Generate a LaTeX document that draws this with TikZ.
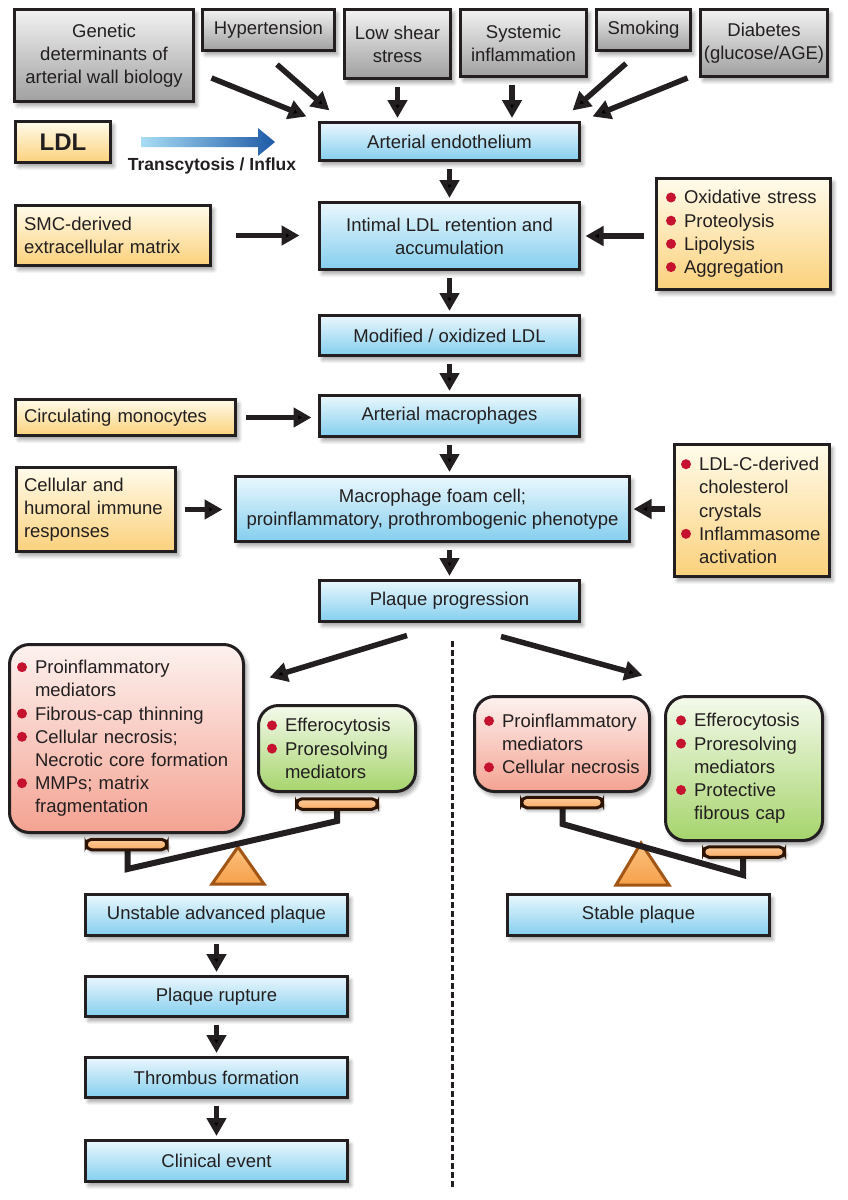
\documentclass[tikz,border=0pt]{standalone}
\usepackage{fontspec}
\setmainfont{Liberation Sans}
\usetikzlibrary{arrows.meta,shadows,shadows.blur,calc}
\definecolor{grayT}{HTML}{F2F2F2}
\definecolor{grayB}{HTML}{A0A0A0}
\definecolor{blueT}{HTML}{EAF7FD}
\definecolor{blueB}{HTML}{84CEEE}
\definecolor{yelT}{HTML}{FFFBEA}
\definecolor{yelB}{HTML}{FBD17C}
\definecolor{redT}{HTML}{FDF2EF}
\definecolor{redB}{HTML}{F4A292}
\definecolor{grnT}{HTML}{F4FAEC}
\definecolor{grnB}{HTML}{A6D46C}
\definecolor{bred}{HTML}{C4122F}
\definecolor{panT}{HTML}{FDCB98}
\definecolor{panF}{HTML}{F8AC66}
\definecolor{panD}{HTML}{2E1405}
\definecolor{triT}{HTML}{FBC27F}
\definecolor{triF}{HTML}{F6A04A}
\definecolor{triD}{HTML}{A25615}
\definecolor{arrL}{HTML}{A8DDF5}
\definecolor{arrR}{HTML}{1E5AA6}
\definecolor{ink}{HTML}{231F20}
\newcommand{\fsz}{\fontsize{18.5}{23.2}\selectfont}
\newcommand{\bul}{\tikz[baseline=-6.5pt]\fill[bred](0pt,0pt) circle[radius=5pt];\hspace{8pt}}
\newcommand{\ind}{\hspace*{18pt}}
\begin{document}
\begin{tikzpicture}[x=1pt,y=-1pt,
 box/.style={draw=ink, line width=3pt, font=\fsz, text=ink, align=center, inner sep=2pt,
   blur shadow={shadow xshift=3pt,shadow yshift=-4pt,shadow blur radius=4pt,shadow blur steps=8,shadow opacity=40}},
 graybox/.style={box, top color=grayT, bottom color=grayB},
 bluebox/.style={box, top color=blueT, bottom color=blueB},
 yelbox/.style={box, top color=yelT, bottom color=yelB},
 redbox/.style={box, top color=redT, bottom color=redB, rounded corners=20pt},
 grnbox/.style={box, top color=grnT, bottom color=grnB, rounded corners=20pt},
 panbar/.style={draw=panD, line width=3pt, top color=panT, bottom color=panF, rounded corners=5.5pt,
   minimum width=81pt, minimum height=10.5pt, inner sep=0pt,
   blur shadow={shadow xshift=2pt,shadow yshift=-3pt,shadow blur radius=3pt,shadow blur steps=6,shadow opacity=35}},
 arr/.style={draw=ink, line width=5.5pt, -{Triangle[length=18pt,width=19pt]}},
 varr/.style={arr, shorten <=6.5pt, shorten >=3pt},
 beam/.style={draw=ink, line width=6pt, line join=miter},
 tri/.style={draw=triD, line width=3pt, top color=triT, bottom color=triF, line join=miter}
]
\useasboundingbox (0,0) rectangle (848,1200);

% top risk factors
\node[graybox, minimum width=179pt, minimum height=92pt] (gen) at (104,55.5) {Genetic\\determinants of\\arterial wall biology};
\node[graybox, minimum width=132pt, minimum height=41pt] (hyp) at (268.5,30) {Hypertension};
\node[graybox, minimum width=106pt, minimum height=69pt] (lss) at (397.5,44) {Low shear\\stress};
\node[graybox, minimum width=126pt, minimum height=67pt] (sys) at (523.5,43) {Systemic\\inflammation};
\node[graybox, minimum width=94pt, minimum height=41pt] (smk) at (643.5,30) {Smoking};
\node[graybox, minimum width=127pt, minimum height=67pt] (dia) at (764,43) {Diabetes\\(glucose/AGE)};

% main column
\node[bluebox, minimum width=260pt, minimum height=38pt] (endo) at (449.5,141.5) {Arterial endothelium};
\node[yelbox, minimum width=95pt, minimum height=41pt, font=\bfseries\fontsize{24}{24}\selectfont] (ldl) at (63,142) {LDL};
\shade[left color=arrL, right color=arrR] (141,137) -- (258,137) -- (258,128) -- (275,142) -- (258,156) -- (258,147) -- (141,147) -- cycle;
\node[font=\bfseries\fontsize{17.5}{17.5}\selectfont, text=ink] (tin) at (212,166) {Transcytosis / Influx};

\node[yelbox, minimum width=195pt, minimum height=60pt, align=left, text width=178pt] (smc) at (113,235.5) {SMC-derived\\extracellular matrix};
\node[bluebox, minimum width=260pt, minimum height=67pt] (ret) at (449.5,236) {Intimal LDL retention and\\accumulation};
\node[yelbox, minimum width=174pt, minimum height=111pt, align=left, text width=155pt] (ox) at (743.5,234) {\bul Oxidative stress\\\bul Proteolysis\\\bul Lipolysis\\\bul Aggregation};
\node[bluebox, minimum width=260pt, minimum height=40pt] (mod) at (449.5,335.5) {Modified / oxidized LDL};
\node[yelbox, minimum width=220pt, minimum height=36pt, align=left, text width=203pt] (mono) at (125.5,417.5) {Circulating monocytes};
\node[bluebox, minimum width=260pt, minimum height=41pt] (mac) at (449.5,416) {Arterial macrophages};
\node[yelbox, minimum width=159pt, minimum height=84pt, align=left, text width=144pt] (cell) at (96,509.5) {Cellular and\\humoral immune\\responses};
\node[bluebox, minimum width=394pt, minimum height=65pt] (foam) at (432.5,509) {Macrophage foam cell;\\proinflammatory, prothrombogenic phenotype};
\node[yelbox, minimum width=155pt, minimum height=132pt, align=left, text width=142pt] (ldlc) at (752,510.5) {\bul LDL-C-derived\\\ind cholesterol\\\ind crystals\\\bul Inflammasome\\\ind activation};
\node[bluebox, minimum width=260pt, minimum height=41pt] (pp) at (449.5,601) {Plaque progression};

% balance boxes
\node[redbox, minimum width=234pt, minimum height=188pt, align=left, text width=219pt] (redL) at (126.5,738.5) {\bul Proinflammatory\\\ind mediators\\\bul Fibrous-cap thinning\\\bul Cellular necrosis;\\\ind Necrotic core formation\\\bul MMPs; matrix\\\ind fragmentation};
\node[grnbox, minimum width=157pt, minimum height=86pt, align=left, text width=140pt] (grnL) at (337,748.5) {\bul Efferocytosis\\\bul Proresolving\\\ind mediators};
\node[redbox, minimum width=175pt, minimum height=95pt, align=left, text width=156pt] (redR) at (562,744) {\bul Proinflammatory\\\ind mediators\\\bul Cellular necrosis};
\node[grnbox, minimum width=157pt, minimum height=144pt, align=left, text width=136pt] (grnR) at (744,768.5) {\bul Efferocytosis\\\bul Proresolving\\\ind mediators\\\bul Protective\\\ind fibrous cap};

% scales
\draw[tri] (238,847) -- (264,884) -- (212,884) -- cycle;
\draw[tri] (641,843) -- (669,885) -- (616,885) -- cycle;
\draw[beam] (127.5,848) -- (127.5,869) -- (337,821) -- (337,808);
\draw[beam] (562.5,806) -- (562.5,824) -- (743,875) -- (743,856);
\node[panbar] (pL1) at (126.5,844.5) {};
\node[panbar] (pL2) at (337,804) {};
\node[panbar] (pR1) at (562,802.5) {};
\node[panbar] (pR2) at (744,852) {};

% outcomes
\node[bluebox, minimum width=262pt, minimum height=41pt] (uns) at (216.5,915) {Unstable advanced plaque};
\node[bluebox, minimum width=262pt, minimum height=40pt] (rup) at (216.5,996.5) {Plaque rupture};
\node[bluebox, minimum width=262pt, minimum height=40pt] (thr) at (216.5,1077.5) {Thrombus formation};
\node[bluebox, minimum width=262pt, minimum height=41pt] (cli) at (216.5,1161) {Clinical event};
\node[bluebox, minimum width=262pt, minimum height=41pt] (stb) at (638.5,915) {Stable plaque};

% dashed divider
\draw[ink, line width=3pt, dash pattern=on 5.5pt off 3.5pt] ($(pp.south)+(2.5,18)$) -- ($(pp.south)+(2.5,564)$);

% connectors
\draw[arr] ($(gen.east)+(16.5,22.5)$) -- ($(endo.north west)+(-11.5,-4.5)$);
\draw[arr] ($(hyp.south)+(8.5,12.5)$) -- ($(endo.north west)+(11.5,-10.5)$);
\draw[varr] (lss.south) -- (lss.south |- endo.north);
\draw[varr] ([xshift=-11.5pt]sys.south) -- ([xshift=-11.5pt]sys.south |- endo.north);
\draw[arr] ($(smk.south)+(-17.5,11.5)$) -- ($(endo.north east)+(-8.5,-10.5)$);
\draw[arr] ($(dia.west)+(-11.5,35)$) -- ($(endo.north east)+(11.5,-4.5)$);

\draw[varr] (endo.south) -- (ret.north);
\draw[varr] (ret.south) -- (mod.north);
\draw[varr] (mod.south) -- (mac.north);
\draw[varr] (mac.south) -- (mac.south |- foam.north);
\draw[varr] (mac.south |- foam.south) -- (pp.north);

\draw[arr, shorten <=23.5pt, shorten >=18.5pt] (smc.east) -- (smc.east -| ret.west);
\draw[arr, shorten <=11.5pt, shorten >=4.5pt] (ox.west |- ret.east) -- (ret.east);
\draw[arr, shorten <=8.5pt, shorten >=6.5pt] (mono.east) -- (mono.east -| mac.west);
\draw[arr, shorten <=7.5pt, shorten >=11.5pt] (cell.east) -- (cell.east -| foam.west);
\draw[arr, shorten <=8.5pt, shorten >=2.5pt] (ldlc.west |- foam.east) -- (foam.east);

\draw[arr] ($(pp.south)+(-42.5,12.5)$) -- ($(redL.north east)+(24.5,34.5)$);
\draw[arr] ($(pp.south)+(51.5,13.5)$) -- ($(redR.north east)+(-8.5,-19.5)$);

\draw[varr] (uns.south) -- (rup.north);
\draw[varr] (rup.south) -- (thr.north);
\draw[varr] (thr.south) -- (cli.north);
\end{tikzpicture}
\end{document}
